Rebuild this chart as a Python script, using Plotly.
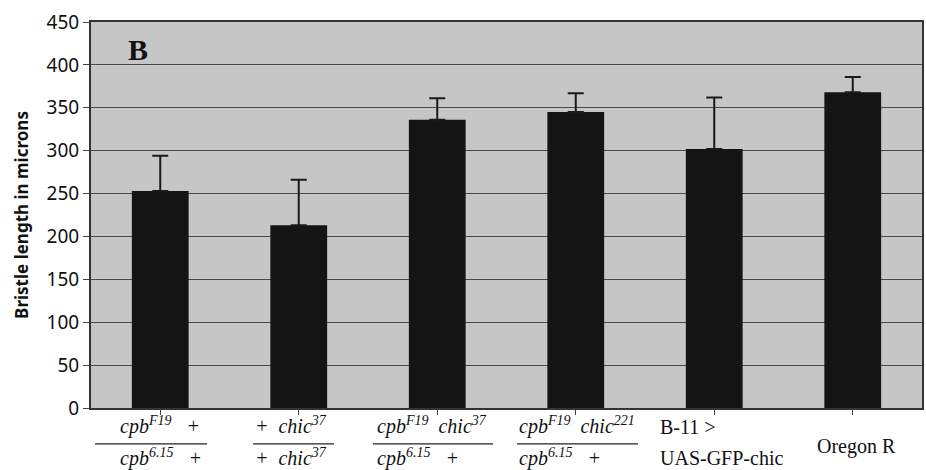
import plotly.graph_objects as go

categories = ["cpbF19/+ ; cpb6.15/+", "+/+ ; chic37/chic37", "cpbF19/cpb6.15 ; chic37/+",
              "cpbF19/cpb6.15 ; chic221/+", "B-11 > UAS-GFP-chic", "Oregon R"]
means = [253, 213, 336, 345, 302, 368]
errors = [41, 53, 25, 22, 60, 18]
y_ticks = [0, 50, 100, 150, 200, 250, 300, 350, 400, 450]

numerators = ["cpb<sup>F19</sup>\u00a0\u00a0\u00a0+", "+\u00a0\u00a0chic<sup>37</sup>",
              "cpb<sup>F19</sup>\u00a0\u00a0chic<sup>37</sup>", "cpb<sup>F19</sup>\u00a0\u00a0chic<sup>221</sup>"]
denominators = ["cpb<sup>6.15</sup>\u00a0\u00a0\u00a0+", "+\u00a0\u00a0chic<sup>37</sup>",
                "cpb<sup>6.15</sup>\u00a0\u00a0\u00a0+", "cpb<sup>6.15</sup>\u00a0\u00a0\u00a0+"]
frac_left = [-0.305, 0.67, 1.551, 2.576]
line_x0 = [-0.471, 0.67, 1.536, 2.576]
line_x1 = [0.3375, 1.254, 2.403, 3.449]

xs = list(range(len(categories)))

fig = go.Figure()
fig.add_trace(go.Bar(
    x=xs, y=means,
    marker=dict(color="#141414", line=dict(width=0)),
    width=0.41,
    hoverinfo="skip",
    error_y=dict(type="data", symmetric=False, array=errors, arrayminus=[0]*len(errors),
                 color="#1a1a1a", thickness=2, width=8),
))

serif = "Liberation Serif, Times New Roman, serif"
annotations = []
shapes = []
for i in range(4):
    annotations.append(dict(x=frac_left[i], y=-0.045, xref="x", yref="paper", xanchor="left",
                            yanchor="middle", showarrow=False,
                            text="<i>" + numerators[i] + "</i>",
                            font=dict(family=serif, size=20, color="#111")))
    annotations.append(dict(x=frac_left[i], y=-0.128, xref="x", yref="paper", xanchor="left",
                            yanchor="middle", showarrow=False,
                            text="<i>" + denominators[i] + "</i>",
                            font=dict(family=serif, size=20, color="#111")))
    shapes.append(dict(type="line", xref="x", yref="paper", x0=line_x0[i], x1=line_x1[i],
                       y0=-0.093, y1=-0.093, line=dict(color="#222", width=1.2)))
annotations.append(dict(x=3.594, y=-0.05, xref="x", yref="paper", xanchor="left", yanchor="middle",
                        showarrow=False, text="B-11 &gt;", font=dict(family=serif, size=20, color="#111")))
annotations.append(dict(x=3.594, y=-0.13, xref="x", yref="paper", xanchor="left", yanchor="middle",
                        showarrow=False, text="UAS-GFP-chic", font=dict(family=serif, size=20, color="#111")))
annotations.append(dict(x=4.727, y=-0.1, xref="x", yref="paper", xanchor="left", yanchor="middle",
                        showarrow=False, text="Oregon R", font=dict(family=serif, size=20, color="#111")))
annotations.append(dict(x=0.057, y=0.93, xref="paper", yref="paper", xanchor="center", yanchor="middle",
                        showarrow=False, text="<b>B</b>", font=dict(family=serif, size=30, color="#111")))

fig.update_layout(
    width=926, height=470,
    margin=dict(l=91, r=4, t=22, b=62),
    paper_bgcolor="white",
    plot_bgcolor="#c6c6c6",
    showlegend=False,
    bargap=0.59,
    annotations=annotations,
    shapes=shapes,
    xaxis=dict(
        range=[-0.5, 5.5], tickvals=xs, showticklabels=False, tickson="boundaries",
        ticks="outside", ticklen=5, tickcolor="#444", showgrid=False, automargin=False,
        showline=True, linecolor="#333", linewidth=2, mirror=True, zeroline=False,
    ),
    yaxis=dict(
        range=[0, 450], tickvals=y_ticks, ticks="outside", ticklen=6, tickcolor="#444",
        tickfont=dict(family="Noto Sans, Open Sans, sans-serif", size=19, color="#111"),
        showgrid=True, gridcolor="#4a4a4a", gridwidth=1.2, automargin=False,
        showline=True, linecolor="#333", linewidth=2, mirror=True, zeroline=False,
        title=dict(text="<b>Bristle length in microns</b>", standoff=14,
                   font=dict(family="Noto Sans, Open Sans, sans-serif", size=17, color="#111")),
    ),
)

fig.write_html("out.html", config={"displayModeBar": False},
               post_script="document.body.style.margin='0';document.body.style.overflow='hidden';")
